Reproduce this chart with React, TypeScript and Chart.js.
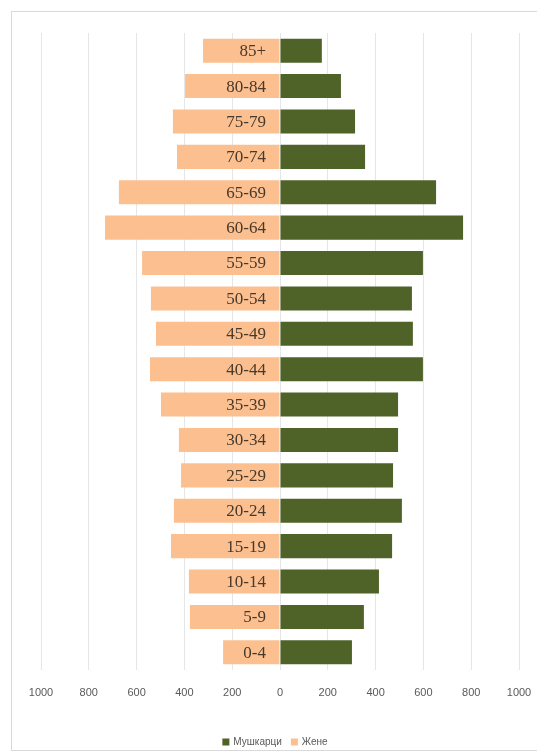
import React, { useEffect, useRef } from "react";
import { Chart, registerables } from "chart.js";

Chart.register(...registerables);

const ageGroups = ["85+", "80-84", "75-79", "70-74", "65-69", "60-64", "55-59", "50-54", "45-49", "40-44", "35-39", "30-34", "25-29", "20-24", "15-19", "10-14", "5-9", "0-4"];
const males = [175, 255, 314, 356, 653, 766, 598, 552, 556, 598, 494, 494, 473, 510, 469, 414, 351, 301];
const females = [322, 397, 448, 431, 674, 732, 577, 540, 519, 544, 498, 423, 414, 444, 456, 381, 377, 238];
const xTicks = [-1000, -800, -600, -400, -200, 0, 200, 400, 600, 800, 1000];
const seriesNames = ["Мушкарци", "Жене"];

const SANS = '"Liberation Sans Narrow", "Liberation Sans", Arial, sans-serif';

const ageLabelPlugin = {
  id: "ageLabels",
  afterDatasetsDraw(chart: any) {
    const { ctx } = chart;
    const xs = chart.scales.x;
    const ys = chart.scales.y;
    const x0 = xs.getPixelForValue(0);
    ctx.save();
    ctx.font = '17px "Liberation Serif", "DejaVu Serif", serif';
    ctx.fillStyle = "#47392b";
    ctx.textAlign = "right";
    ctx.textBaseline = "middle";
    ageGroups.forEach((g, i) => {
      ctx.fillText(g, x0 - 14, ys.getPixelForValue(i) + 1);
    });
    ctx.restore();
  },
};

const legendPlugin = {
  id: "customLegend",
  afterDraw(chart: any) {
    const { ctx } = chart;
    const ds = chart.data.datasets;
    const y = chart.height - 8;
    const box = 7;
    const gapBoxText = 4;
    const gapItems = 9;
    ctx.save();
    ctx.font = "10px " + SANS;
    ctx.textBaseline = "middle";
    ctx.textAlign = "left";
    const widths = ds.map((d: any) => box + gapBoxText + ctx.measureText(d.label).width);
    const total = widths.reduce((a: number, b: number) => a + b, 0) + gapItems * (ds.length - 1);
    let x = 263 - total / 2;
    ds.forEach((d: any, i: number) => {
      ctx.fillStyle = d.backgroundColor;
      ctx.fillRect(x, y - box / 2, box, box);
      ctx.fillStyle = "#595959";
      ctx.fillText(d.label, x + box + gapBoxText, y);
      x += widths[i] + gapItems;
    });
    ctx.restore();
  },
};

export default function App() {
  const ref = useRef<HTMLCanvasElement>(null);
  useEffect(() => {
    if (!ref.current) return;
    const chart = new Chart(ref.current, {
      type: "bar",
      data: {
        labels: ageGroups,
        datasets: [
          {
            label: seriesNames[0],
            data: males,
            backgroundColor: "#4f6228",
            barPercentage: 0.68,
            categoryPercentage: 1,
          },
          {
            label: seriesNames[1],
            data: females.map((v) => -v),
            backgroundColor: "#fcbf8f",
            barPercentage: 0.68,
            categoryPercentage: 1,
          },
        ],
      },
      options: {
        indexAxis: "y",
        responsive: false,
        animation: false,
        layout: { padding: { left: 29, right: 18, top: 21, bottom: 18 } },
        scales: {
          x: {
            min: -1000,
            max: 1000,
            stacked: true,
            afterBuildTicks: (s: any) => {
              s.ticks = xTicks.map((v) => ({ value: v }));
            },
            afterFit: (s: any) => {
              s.height = 62;
            },
            ticks: {
              padding: 3,
              color: "#595959",
              font: { family: SANS, size: 11 },
              callback: (v: any) => String(Math.abs(Number(v))),
            },
            grid: { color: "#e6e6e6", drawTicks: true, tickLength: 13, tickColor: "rgba(0,0,0,0)" },
            border: { display: false },
          },
          y: {
            stacked: true,
            display: false,
          },
        },
        plugins: {
          legend: { display: false },
          tooltip: { enabled: false },
        },
      },
      plugins: [ageLabelPlugin, legendPlugin],
    });
    return () => chart.destroy();
  }, []);
  return (
    <div
      style={{
        position: "absolute",
        left: 11,
        top: 11,
        width: 525,
        height: 738,
        borderTop: "1px solid #d9d9d9",
        borderLeft: "1px solid #d9d9d9",
        borderBottom: "1px solid #d9d9d9",
        background: "#fff",
      }}
    >
      <canvas ref={ref} width={525} height={738} style={{ display: "block", width: 525, height: 738 }} />
    </div>
  );
}
